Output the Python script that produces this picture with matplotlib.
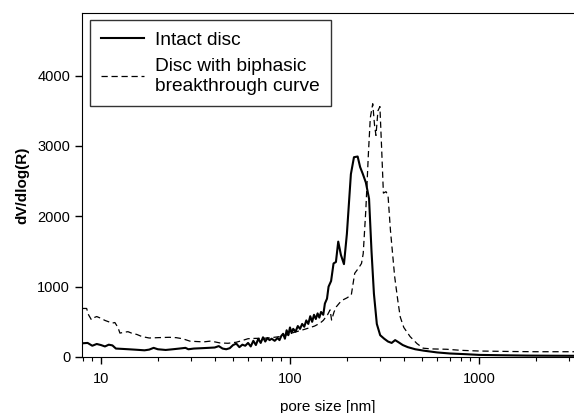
import matplotlib.pyplot as plt
import numpy as np

# pore size [nm] and dV/dlog(R)
intact_x = [8.0, 8.5, 9.0, 9.5, 10.0, 10.5, 11.0, 11.5, 12.0, 13, 14, 15, 16, 17, 18, 19, 20, 21, 22,
            24, 26, 28, 29, 31, 34, 37, 40, 42, 44, 46, 48, 50, 52, 54, 56, 58, 60, 62, 64, 66, 68,
            70, 72, 74, 76, 78, 80, 83, 86, 88, 90, 92, 94, 96, 98, 100, 102, 104, 107, 110, 113,
            116, 119, 122, 125, 128, 131, 134, 137, 140, 143, 146, 150, 153, 157, 160, 165, 170,
            175, 180, 186, 193, 200, 210, 218, 228, 235, 243, 252, 262, 270, 278, 288, 300, 315,
            330, 345, 360, 375, 395, 420, 460, 510, 600, 700, 850, 1000, 1300, 1800, 2500, 3200]
intact_y = [195, 200, 160, 185, 170, 150, 175, 165, 120, 115, 110, 105, 100, 95, 105, 130, 110, 105, 100,
            110, 120, 130, 110, 120, 125, 130, 135, 155, 120, 110, 125, 170, 190, 140, 175, 160, 200,
            150, 230, 170, 260, 200, 280, 220, 270, 240, 260, 230, 270, 240, 300, 330, 260, 380, 310,
            420, 340, 400, 360, 440, 400, 470, 430, 520, 470, 580, 500, 600, 540, 620, 560, 640, 600,
            760, 830, 1000, 1080, 1330, 1350, 1640, 1450, 1320, 1750, 2600, 2840, 2850, 2700, 2600,
            2480, 2250, 1500, 900, 470, 310, 260, 220, 200, 240, 210, 170, 140, 110, 90, 65, 50, 40,
            30, 25, 20, 18, 17]

biphasic_x = [8.0, 8.4, 8.6, 8.9, 9.2, 9.5, 10.0, 10.5, 11.0, 11.4, 11.85, 12.3, 12.6, 13.2, 13.9,
              14.5, 15.5, 16.5, 18, 20, 23, 25, 27, 29.6, 32, 35, 37.7, 40, 42.6, 47, 52, 56, 60,
              66, 72, 80, 88, 95, 105, 115, 125, 135, 144, 150, 158, 163, 166, 171, 176, 183, 190,
              200, 211, 220, 230, 239, 244, 252, 260, 266, 274, 280, 285, 292, 299, 305, 312, 322,
              330, 340, 358, 372, 383, 400, 432, 470, 507, 560, 674, 800, 1000, 1500, 2000, 3200]
biphasic_y = [690, 690, 600, 530, 560, 575, 550, 520, 500, 480, 490, 420, 340, 350, 360,
              340, 320, 290, 270, 275, 280, 275, 260, 225, 220, 215, 225, 215, 200, 195, 210, 235, 260,
              265, 265, 275, 290, 310, 350, 380, 410, 440, 480, 520, 600, 670, 525, 640, 715, 770, 810,
              840, 880, 1190, 1260, 1330, 1470, 2100, 2900, 3400, 3600, 3300, 3150, 3500, 3560, 3000,
              2330, 2350, 2300, 1800, 1140, 800, 570, 420, 290, 190, 125, 115, 110, 95, 85, 78, 75, 75]

labels = ['Intact disc', 'Disc with biphasic\nbreakthrough curve']
yticks = [0, 1000, 2000, 3000, 4000]

plt.rcParams['font.family'] = ['Liberation Sans', 'DejaVu Sans']

fig = plt.figure(figsize=(5.74, 4.13), dpi=100)
ax = fig.add_axes([82 / 574, 1 - 357 / 413, 1 - 82 / 574, (357 - 13) / 413])

ax.plot(intact_x, intact_y, '-', color='black', lw=1.5, label=labels[0])
ax.plot(biphasic_x, biphasic_y, '--', color='black', lw=0.9, dashes=(5, 3), label=labels[1])

ax.set_xscale('log')
ax.set_xlim(7.94, 3180)
ax.set_ylim(0, 4890)
ax.set_yticks(yticks)
ax.set_xticks([10, 100, 1000])
ax.set_xticklabels(['10', '100', '1000'])
ax.tick_params(axis='both', which='major', direction='out', length=5, width=1, labelsize=10.5)
ax.tick_params(axis='x', which='minor', direction='out', length=3, width=0.8)
ax.tick_params(axis='x', which='major', pad=6)
ax.spines['right'].set_visible(False)

ax.set_xlabel('pore size [nm]', fontsize=11, labelpad=10)
ax.set_ylabel('dV/dlog(R)', fontsize=11, fontweight='bold', labelpad=6)

leg = ax.legend(loc='upper left', bbox_to_anchor=(0.016, 0.98), fontsize=13.8, frameon=True,
                fancybox=False, edgecolor='black', handlelength=2.25, handletextpad=0.55,
                labelspacing=0.5, borderpad=0.6, borderaxespad=0)
leg.get_frame().set_linewidth(1.0)

fig.savefig('out.png', dpi=100)
